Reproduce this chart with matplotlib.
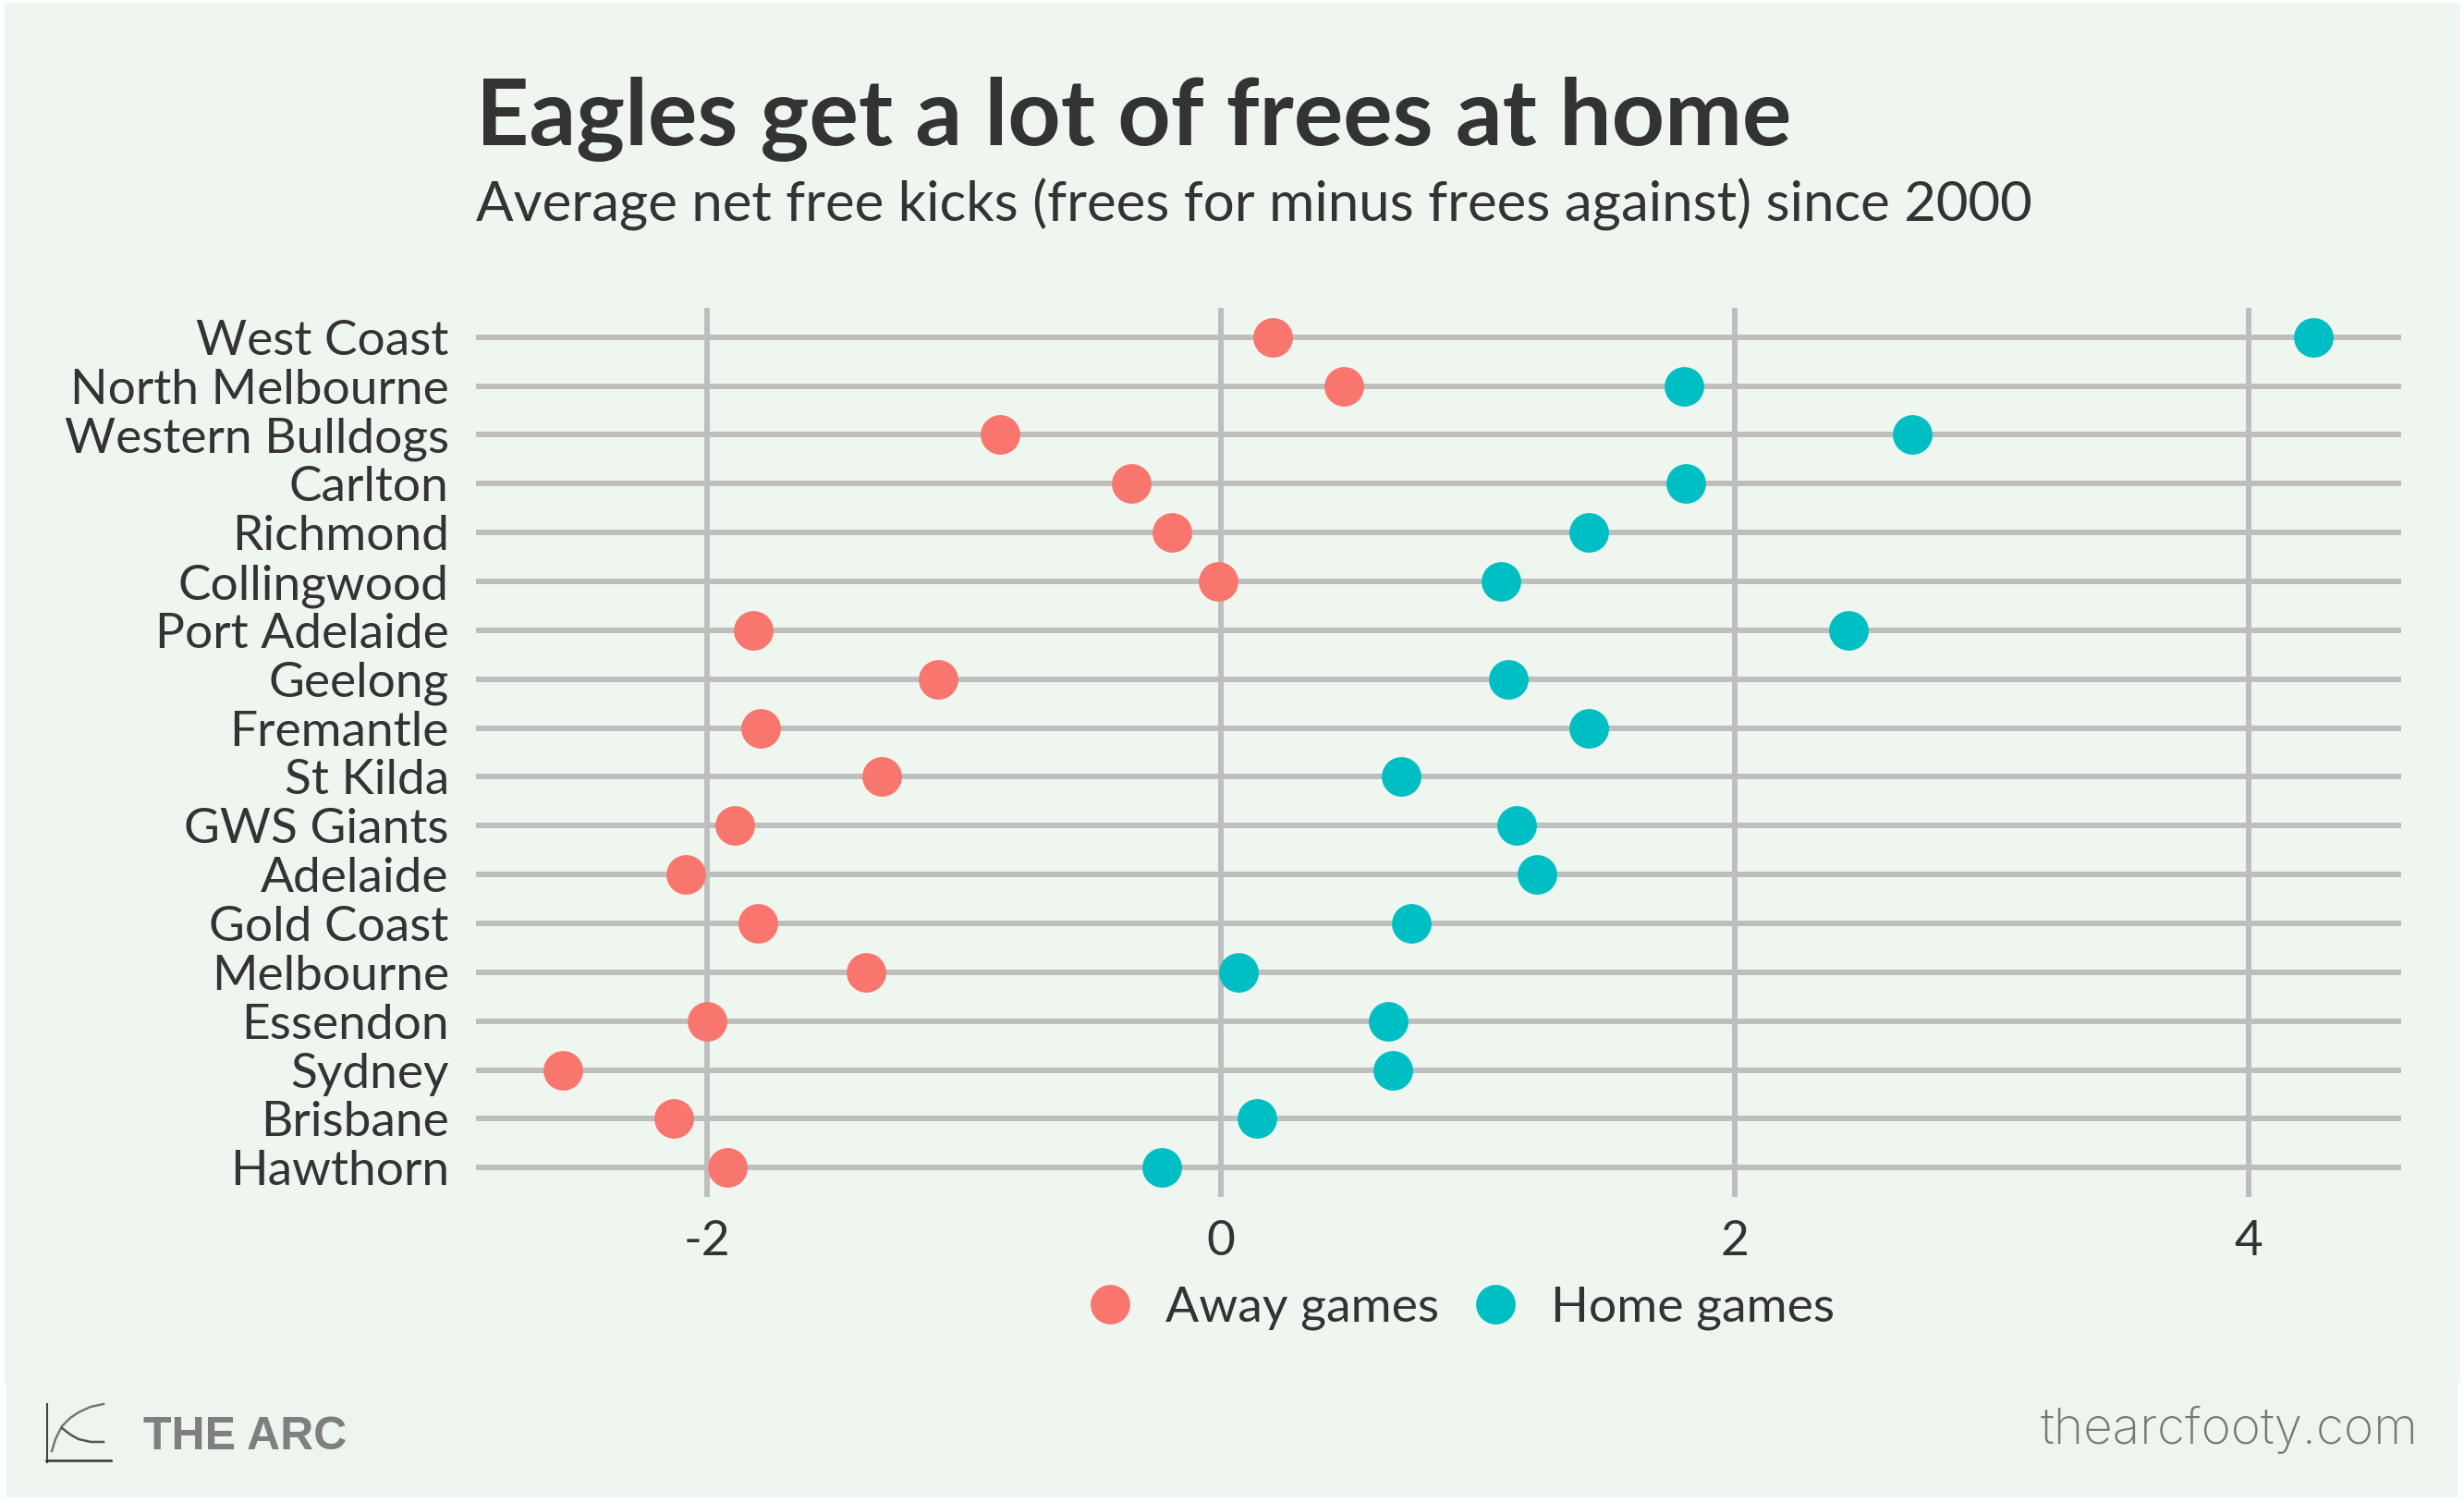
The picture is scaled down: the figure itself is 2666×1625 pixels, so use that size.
import matplotlib
matplotlib.use("Agg")
import matplotlib.pyplot as plt
from matplotlib.lines import Line2D
from matplotlib.patches import Rectangle

plt.rcParams["font.family"] = ["Lato", "DejaVu Sans"]

# 数据
teams = ["West Coast", "North Melbourne", "Western Bulldogs", "Carlton", "Richmond",
         "Collingwood", "Port Adelaide", "Geelong", "Fremantle", "St Kilda",
         "GWS Giants", "Adelaide", "Gold Coast", "Melbourne", "Essendon",
         "Sydney", "Brisbane", "Hawthorn"]
away = [0.20, 0.48, -0.86, -0.35, -0.19, -0.01, -1.82, -1.10, -1.79, -1.32,
        -1.89, -2.08, -1.80, -1.38, -2.00, -2.56, -2.13, -1.92]
home = [4.25, 1.80, 2.69, 1.81, 1.43, 1.09, 2.44, 1.12, 1.43, 0.70,
        1.15, 1.23, 0.74, 0.07, 0.65, 0.67, 0.14, -0.23]
x_ticks = [-2, 0, 2, 4]

W, H = 2666, 1625
TEXT = "#333333"
GRID = "#BEBEBE"
AWAY_COL = "#F8766D"
HOME_COL = "#00BFC4"

fig = plt.figure(figsize=(W / 100, H / 100), dpi=100, facecolor="white")

# 背景层，用像素坐标
bg = fig.add_axes([0, 0, 1, 1], zorder=0)
bg.set_xlim(0, W)
bg.set_ylim(H, 0)
bg.axis("off")
bg.add_patch(Rectangle((5, 3), 2657, 1494, fc="#EFF6EF", ec="none"))
bg.add_patch(Rectangle((7, 1497), 2652, 123, fc="#EDF5EE", ec="none"))

# logo
bg.plot([51, 51], [1519, 1582], color="#444444", lw=1.5)
bg.plot([50, 120], [1580, 1580], color="#333333", lw=1.8)
bg.plot([56, 60, 67, 76, 85, 98, 112], [1570, 1557, 1543, 1534, 1528, 1522, 1519], color="#777777", lw=1.8)
bg.plot([67, 76, 85, 98, 112], [1545, 1552, 1557, 1560, 1560], color="#555555", lw=1.8)

# 主图
ax = fig.add_axes([515 / W, 1 - 1295 / H, (2598 - 515) / W, (1295 - 333) / H], zorder=1)
ax.patch.set_alpha(0)
y = list(range(len(teams)))
ax.hlines(y, -2.898, 4.592, color=GRID, lw=4.3, zorder=1)
ax.vlines(x_ticks, -0.6, 17.6, color=GRID, lw=4.3, zorder=1)
ax.scatter(away, y, s=950, color=AWAY_COL, linewidths=0, zorder=3)
ax.scatter(home, y, s=950, color=HOME_COL, linewidths=0, zorder=3)
ax.set_xlim(-2.898, 4.592)
ax.set_ylim(17.6, -0.6)
ax.set_yticks(y)
ax.set_yticklabels(teams)
ax.set_xticks(x_ticks)
ax.set_xticklabels(["-2", "0", "2", "4"])
ax.tick_params(axis="both", length=0, labelsize=38.3, labelcolor=TEXT)
ax.tick_params(axis="y", pad=21)
ax.tick_params(axis="x", pad=18)
for s in ax.spines.values():
    s.set_visible(False)

handles = [
    Line2D([], [], marker="o", ls="", color=AWAY_COL, markersize=30.8, markeredgewidth=0),
    Line2D([], [], marker="o", ls="", color=HOME_COL, markersize=30.8, markeredgewidth=0),
]
fig.legend(handles, ["Away games", "Home games"], ncol=2, frameon=False, fontsize=38.5,
           labelcolor=TEXT, loc="center", bbox_to_anchor=(1580 / W, 1 - 1415 / H),
           handlelength=1, handletextpad=0.62, columnspacing=0.64, borderpad=0)

# 标题
fig.text(515 / W, 1 - 157 / H, "Eagles get a lot of frees at home", fontsize=72,
         fontweight="bold", color=TEXT, ha="left", va="baseline")
fig.text(515 / W, 1 - 239 / H, "Average net free kicks (frees for minus frees against) since 2000",
         fontsize=43.2, color=TEXT, ha="left", va="baseline")

# 页脚
fig.text(155 / W, 1 - 1568 / H, "THE ARC", fontsize=36, fontweight="bold", color="#7F7F7F",
         family=["Liberation Sans", "DejaVu Sans"], ha="left", va="baseline")
fig.text(2617 / W, 1 - 1562 / H, "thearcfooty.com", fontsize=39.5, color="#767976",
         family=["Inter", "DejaVu Sans"], fontweight="light", ha="right", va="baseline")

fig.savefig("out.png", dpi=100, facecolor="white")
